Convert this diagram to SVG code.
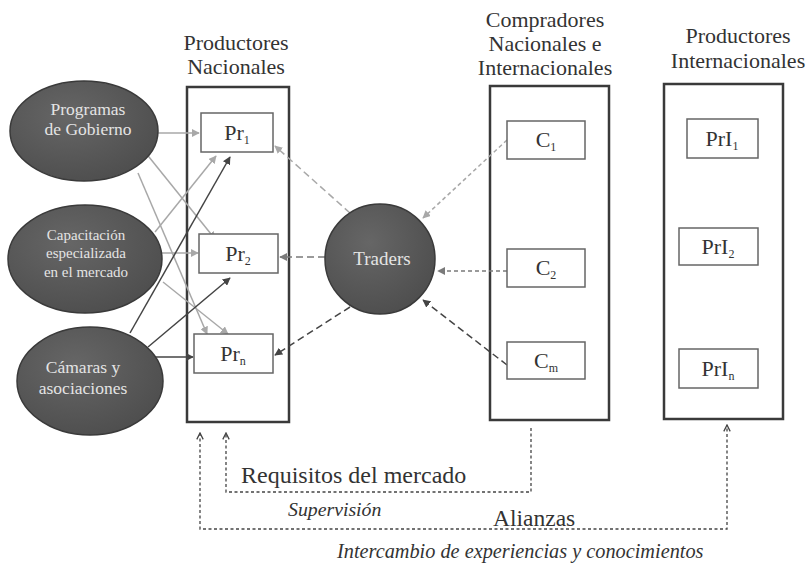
<svg xmlns="http://www.w3.org/2000/svg" width="806" height="573" viewBox="0 0 806 573">
<style>
.t{font-family:'Liberation Serif','DejaVu Serif','Noto Serif',serif;fill:#333}
.title{font-size:22px;text-anchor:middle}
.en{font-family:'Liberation Serif','DejaVu Serif','Noto Serif',serif;fill:#e4e4e4;text-anchor:middle}
.big{fill:none;stroke:#3a3a3a;stroke-width:2.5}
.box{fill:#fff;stroke:#666;stroke-width:1.5}
.lbl{font-size:22px;text-anchor:middle}
.sub{font-size:12px}
.ell{fill:url(#g);stroke:#3a3a3a;stroke-width:1.5}
.lg{stroke:#a8a8a8;stroke-width:1.5;fill:none}
.dk{stroke:#444;stroke-width:1.5;fill:none}
.md{stroke:#7a7a7a;stroke-width:1.5;fill:none}
.bt{stroke:#444;stroke-width:1.3;fill:none;stroke-dasharray:3 2.5}
</style>
<defs>
<radialGradient id="g" cx="0.4" cy="0.35" r="0.8">
<stop offset="0" stop-color="#666"/>
<stop offset="1" stop-color="#4a4a4a"/>
</radialGradient>
<marker id="aL" viewBox="0 0 10 10" refX="9" refY="5" markerWidth="8" markerHeight="8" markerUnits="userSpaceOnUse" orient="auto"><path d="M0,0 L10,5 L0,10 z" fill="#a8a8a8"/></marker>
<marker id="aM" viewBox="0 0 10 10" refX="9" refY="5" markerWidth="8" markerHeight="8" markerUnits="userSpaceOnUse" orient="auto"><path d="M0,0 L10,5 L0,10 z" fill="#7a7a7a"/></marker>
<marker id="aD" viewBox="0 0 10 10" refX="9" refY="5" markerWidth="8" markerHeight="8" markerUnits="userSpaceOnUse" orient="auto"><path d="M0,0 L10,5 L0,10 z" fill="#444"/></marker>
<marker id="aO" viewBox="0 0 10 10" refX="9" refY="5" markerWidth="8" markerHeight="8" markerUnits="userSpaceOnUse" orient="auto-start-reverse"><path d="M1,1 L9,5 L1,9" fill="none" stroke="#444" stroke-width="1.6"/></marker>
</defs>

<g id="titles">
<text class="t title" x="236" y="50">Productores</text>
<text class="t title" x="236" y="74">Nacionales</text>
<text class="t title" x="545" y="27">Compradores</text>
<text class="t title" x="545" y="51">Nacionales e</text>
<text class="t title" x="545" y="75">Internacionales</text>
<text class="t title" x="738" y="43">Productores</text>
<text class="t title" x="738" y="68">Internacionales</text>
</g>

<g id="productores-nacionales">
<rect class="big" x="187" y="87" width="102" height="335"/>
</g>
<g id="compradores">
<rect class="big" x="490" y="86" width="119" height="334"/>
</g>
<g id="productores-internacionales">
<rect class="big" x="664" y="84" width="119" height="335"/>
</g>

<g id="connectors">
<path class="lg" d="M155,133 L199,133" marker-end="url(#aL)"/>
<path class="lg" d="M145,152 L215,239" marker-end="url(#aL)"/>
<path class="lg" d="M138,173 L207,334" marker-end="url(#aL)"/>
<path class="lg" d="M155,232 L216,156" marker-end="url(#aL)"/>
<path class="lg" d="M162,253 L198,253" marker-end="url(#aL)"/>
<path class="lg" d="M163,282 L228,334" marker-end="url(#aL)"/>
<path class="dk" d="M130,333 L230,157" marker-end="url(#aD)"/>
<path class="dk" d="M148,347 L230,278" marker-end="url(#aD)"/>
<path class="dk" d="M155,357 L193,357" marker-end="url(#aD)"/>

<path class="lg" stroke="#999" stroke-dasharray="7 4" d="M350,213 L275,146" marker-end="url(#aL)"/>
<path class="md" stroke-dasharray="7 4" d="M325,257 L280,257" marker-end="url(#aM)"/>
<path class="dk" stroke-dasharray="7 4" d="M350,307 L275,355" marker-end="url(#aD)"/>
<path class="lg" stroke-dasharray="4 3" d="M507,140 L423,218" marker-end="url(#aL)"/>
<path class="md" stroke-dasharray="4 3" d="M507,271 L438,271" marker-end="url(#aM)"/>
<path class="dk" stroke-dasharray="7 4" d="M507,365 L423,300" marker-end="url(#aD)"/>

<path class="bt" d="M531,428 V492 H226 V433" marker-end="url(#aO)"/>
<path class="bt" d="M200,433 V529 H727 V425" marker-start="url(#aO)" marker-end="url(#aO)"/>
</g>

<g id="programas-de-gobierno">
<ellipse class="ell" cx="84" cy="131" rx="74" ry="50"/>
<text class="en" x="88" y="115" font-size="17.5">Programas</text>
<text class="en" x="88" y="135" font-size="17.5">de Gobierno</text>
</g>
<g id="capacitacion">
<ellipse class="ell" cx="85" cy="259" rx="77" ry="54"/>
<text class="en" x="86" y="240" font-size="15">Capacitación</text>
<text class="en" x="86" y="258" font-size="15">especializada</text>
<text class="en" x="86" y="277" font-size="15">en el mercado</text>
</g>
<g id="camaras">
<ellipse class="ell" cx="90" cy="381" rx="73" ry="54"/>
<text class="en" x="83" y="373" font-size="17.5">Cámaras y</text>
<text class="en" x="83" y="394" font-size="17.5">asociaciones</text>
</g>
<g id="traders">
<circle class="ell" cx="380" cy="259" r="55"/>
<text class="en" x="382" y="265" font-size="19">Traders</text>
</g>

<g id="pr1"><rect class="box" x="201" y="113" width="72" height="39"/><text class="t lbl" x="237" y="140">Pr<tspan class="sub" dy="4">1</tspan></text></g>
<g id="pr2"><rect class="box" x="199" y="234" width="79" height="39"/><text class="t lbl" x="238" y="261">Pr<tspan class="sub" dy="4">2</tspan></text></g>
<g id="prn"><rect class="box" x="194" y="334" width="79" height="39"/><text class="t lbl" x="233" y="361">Pr<tspan class="sub" dy="4">n</tspan></text></g>

<g id="c1"><rect class="box" x="507" y="121" width="78" height="38"/><text class="t lbl" x="546" y="147">C<tspan class="sub" dy="4">1</tspan></text></g>
<g id="c2"><rect class="box" x="507" y="249" width="78" height="38"/><text class="t lbl" x="546" y="275">C<tspan class="sub" dy="4">2</tspan></text></g>
<g id="cm"><rect class="box" x="507" y="342" width="78" height="37"/><text class="t lbl" x="546" y="368">C<tspan class="sub" dy="4">m</tspan></text></g>

<g id="pri1"><rect class="box" x="687" y="119" width="71" height="39"/><text class="t lbl" x="722" y="146">PrI<tspan class="sub" dy="4">1</tspan></text></g>
<g id="pri2"><rect class="box" x="679" y="228" width="79" height="37"/><text class="t lbl" x="718" y="254">PrI<tspan class="sub" dy="4">2</tspan></text></g>
<g id="prin"><rect class="box" x="679" y="349" width="79" height="39"/><text class="t lbl" x="718" y="376">PrI<tspan class="sub" dy="4">n</tspan></text></g>

<g id="labels">
<text class="t" x="241" y="483" font-size="24">Requisitos del mercado</text>
<text class="t" x="288" y="516" font-size="19.8" font-style="italic">Supervisión</text>
<text class="t" x="493" y="526" font-size="23.5">Alianzas</text>
<text class="t" x="337" y="558" font-size="20.3" font-style="italic">Intercambio de experiencias y conocimientos</text>
</g>
</svg>
